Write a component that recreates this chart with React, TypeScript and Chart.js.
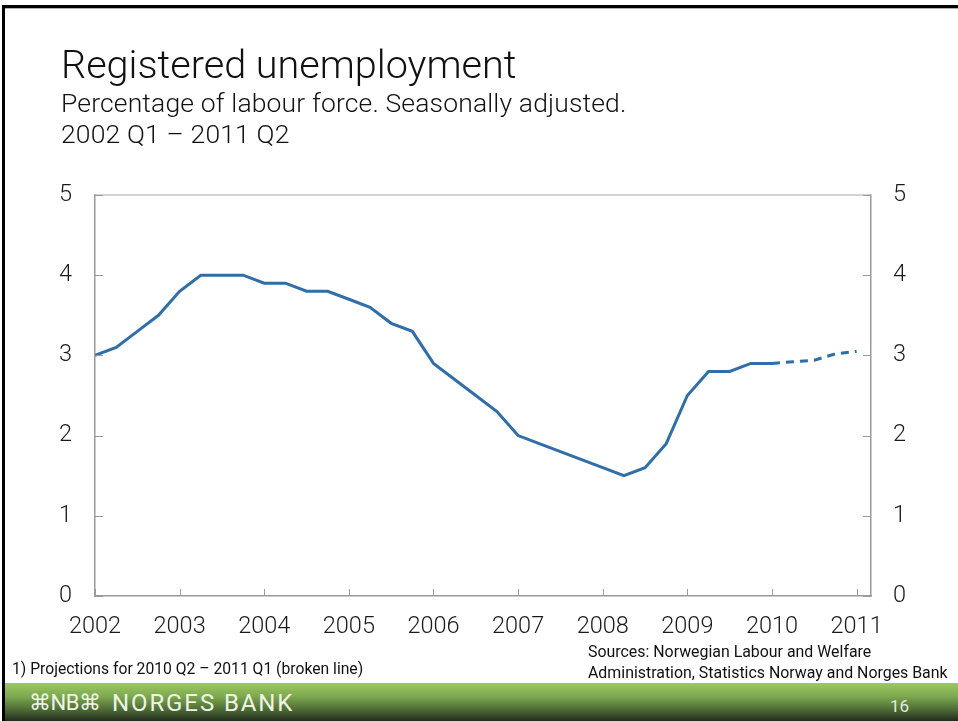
import React, { useEffect, useRef } from "react";
import { Chart, registerables } from "chart.js";

Chart.register(...registerables);

const quarters: string[] = [
  "2002 Q1", "2002 Q2", "2002 Q3", "2002 Q4",
  "2003 Q1", "2003 Q2", "2003 Q3", "2003 Q4",
  "2004 Q1", "2004 Q2", "2004 Q3", "2004 Q4",
  "2005 Q1", "2005 Q2", "2005 Q3", "2005 Q4",
  "2006 Q1", "2006 Q2", "2006 Q3", "2006 Q4",
  "2007 Q1", "2007 Q2", "2007 Q3", "2007 Q4",
  "2008 Q1", "2008 Q2", "2008 Q3", "2008 Q4",
  "2009 Q1", "2009 Q2", "2009 Q3", "2009 Q4",
  "2010 Q1", "2010 Q2", "2010 Q3", "2010 Q4",
  "2011 Q1",
];

const unemployment: number[] = [
  3.0, 3.1, 3.3, 3.5,
  3.8, 4.0, 4.0, 4.0,
  3.9, 3.9, 3.8, 3.8,
  3.7, 3.6, 3.4, 3.3,
  2.9, 2.7, 2.5, 2.3,
  2.0, 1.9, 1.8, 1.7,
  1.6, 1.5, 1.6, 1.9,
  2.5, 2.8, 2.8, 2.9,
  2.9, 2.92, 2.94, 3.02,
  3.05,
];

// projections (broken line) start after this quarter
const projectionFrom = "2010 Q1";

const yearTicks: number[] = [2002, 2003, 2004, 2005, 2006, 2007, 2008, 2009, 2010, 2011];
const xMin = 2002;
const xMax = 2011.17;
const yTicks: number[] = [0, 1, 2, 3, 4, 5];

const LINE_COLOR = "#2f6ea8";
const AXIS_COLOR = "#9a9a9a";
const FONT = "Roboto, 'Liberation Sans', Arial, sans-serif";

function quarterToX(q: string): number {
  const [y, qq] = q.split(" Q");
  return Number(y) + (Number(qq) - 1) / 4;
}

const inwardTicks = {
  id: "inwardTicks",
  afterDraw(chart: any) {
    const { ctx, chartArea, scales } = chart;
    const { left, right, top, bottom } = chartArea;
    ctx.save();
    ctx.lineWidth = 1.5;
    ctx.strokeStyle = "#c4c4c4";
    ctx.beginPath();
    ctx.moveTo(left, top);
    ctx.lineTo(right, top);
    ctx.stroke();
    ctx.strokeStyle = AXIS_COLOR;
    ctx.lineWidth = 1;
    ctx.beginPath();
    scales.x.ticks.forEach((t: any) => {
      const px = Math.round(scales.x.getPixelForValue(t.value)) + 0.5;
      ctx.moveTo(px, bottom);
      ctx.lineTo(px, bottom - 7);
    });
    scales.y.ticks.forEach((t: any) => {
      const py = Math.round(scales.y.getPixelForValue(t.value)) + 0.5;
      ctx.moveTo(left, py);
      ctx.lineTo(left + 8, py);
    });
    scales.y2.ticks.forEach((t: any) => {
      const py = Math.round(scales.y2.getPixelForValue(t.value)) + 0.5;
      ctx.moveTo(right, py);
      ctx.lineTo(right - 8, py);
    });
    ctx.stroke();
    ctx.restore();
  },
};

function ChartCanvas() {
  const ref = useRef<HTMLCanvasElement | null>(null);
  useEffect(() => {
    if (!ref.current) return;
    const projIdx = quarters.indexOf(projectionFrom);
    const data = quarters.map((q, i) => ({ x: quarterToX(q), y: unemployment[i] }));
    const tickFont = { family: FONT, size: 23.5, weight: "300" as any };
    const chart = new Chart(ref.current, {
      type: "line",
      data: {
        datasets: [
          {
            data,
            borderColor: LINE_COLOR,
            borderWidth: 3,
            pointRadius: 0,
            tension: 0,
            fill: false,
            segment: {
              borderDash: (c: any) => (c.p0DataIndex >= projIdx ? [8, 6] : undefined),
            },
          },
        ],
      },
      options: {
        animation: false,
        responsive: false,
        events: [],
        layout: { padding: { top: 195, left: 0, right: 0, bottom: 75 } },
        plugins: { legend: { display: false }, tooltip: { enabled: false }, title: { display: false } },
        scales: {
          x: {
            type: "linear",
            position: "bottom",
            min: xMin,
            max: xMax,
            afterFit: (s: any) => { s.height = 50; },
            afterBuildTicks: (s: any) => { s.ticks = yearTicks.map((v) => ({ value: v })); },
            ticks: {
              includeBounds: false,
              autoSkip: false,
              maxRotation: 0,
              padding: 17,
              color: "#1a1a1a",
              font: tickFont,
              callback: (v: any) => String(v),
            },
            grid: { display: false, drawTicks: false },
            border: { display: true, color: AXIS_COLOR, width: 1.5 },
          },
          y: {
            position: "left",
            min: 0,
            max: 5,
            afterFit: (s: any) => { s.width = 95; },
            afterBuildTicks: (s: any) => { s.ticks = yTicks.map((v) => ({ value: v })); },
            ticks: { padding: 23, color: "#1a1a1a", font: tickFont, callback: (v: any) => String(v) },
            grid: { display: false, drawTicks: false },
            border: { display: true, color: AXIS_COLOR, width: 1.5 },
          },
          y2: {
            position: "right",
            min: 0,
            max: 5,
            afterFit: (s: any) => { s.width = 87; },
            afterBuildTicks: (s: any) => { s.ticks = yTicks.map((v) => ({ value: v })); },
            ticks: { padding: 22, color: "#1a1a1a", font: tickFont, callback: (v: any) => String(v) },
            grid: { display: false, drawTicks: false },
            border: { display: true, color: AXIS_COLOR, width: 1.5 },
          },
        },
      },
      plugins: [inwardTicks],
    });
    return () => chart.destroy();
  }, []);
  return (
    <canvas
      ref={ref}
      width={958}
      height={721}
      style={{ position: "absolute", left: 0, top: 0, width: 958, height: 721 }}
    />
  );
}

const txt = (extra: React.CSSProperties): React.CSSProperties => ({
  position: "absolute",
  whiteSpace: "nowrap",
  fontFamily: FONT,
  fontWeight: 300,
  color: "#111",
  lineHeight: 1,
  margin: 0,
  ...extra,
});

export default function App() {
  return (
    <div
      style={{
        position: "absolute",
        left: 0,
        top: 0,
        width: 958,
        height: 721,
        overflow: "hidden",
        background: "#fff",
      }}
    >
      <ChartCanvas />
      {/* slide frame */}
      <div style={{ position: "absolute", left: 2, top: 5, width: 956, height: 3, background: "#000" }} />
      <div style={{ position: "absolute", left: 2, top: 8, width: 956, height: 1, background: "#b0b0b0" }} />
      <div style={{ position: "absolute", left: 2, top: 5, width: 3, height: 716, background: "#000" }} />

      <div style={txt({ left: 61, top: 45, fontSize: 39.6 })}>Registered unemployment</div>
      <div style={txt({ left: 61, top: 90, fontSize: 26.5, letterSpacing: 0.15 })}>
        Percentage of labour force. Seasonally adjusted.
      </div>
      <div style={txt({ left: 61, top: 121, fontSize: 26.5, letterSpacing: 0.15 })}>2002 Q1 – 2011 Q2</div>

      <div style={txt({ left: 12, top: 661, fontSize: 15.7, fontWeight: 400 })}>
        1) Projections for 2010 Q2 – 2011 Q1 (broken line)
      </div>
      <div style={txt({ left: 588, top: 644, fontSize: 15.9, fontWeight: 400 })}>
        Sources: Norwegian Labour and Welfare
      </div>
      <div style={txt({ left: 588, top: 665, fontSize: 15.9, fontWeight: 400 })}>
        Administration, Statistics Norway and Norges Bank
      </div>

      {/* footer band */}
      <div
        style={{
          position: "absolute",
          left: 5,
          top: 683,
          width: 953,
          height: 38,
          background: "linear-gradient(#9cc962 0%, #7ea94f 35%, #4d6b36 70%, #232b1c 100%)",
        }}
      />
      <div style={txt({ left: 29, top: 692, fontSize: 22, fontWeight: 400, color: "#eef3e6", letterSpacing: -0.5 })}>
        ⌘NB⌘
      </div>
      <div style={txt({ left: 112, top: 691, fontSize: 24, fontWeight: 400, color: "#eef3e6", letterSpacing: 1.9 })}>
        NORGES BANK
      </div>
      <div style={txt({ left: 890, top: 698, fontSize: 17, fontWeight: 400, color: "#e4ebdc" })}>16</div>
    </div>
  );
}
